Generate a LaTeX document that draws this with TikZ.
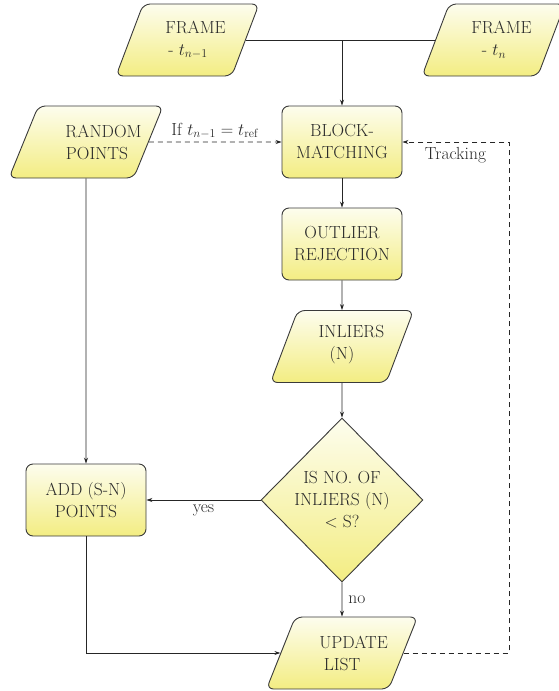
\documentclass[tikz,border=0pt]{standalone}
\usetikzlibrary{shapes.geometric,arrows.meta}
\definecolor{fillTop}{HTML}{FDFDEE}
\definecolor{fillBot}{HTML}{F3ED82}
\definecolor{edgeC}{HTML}{3A3A3A}
\definecolor{txtC}{HTML}{2A2A2A}
\begin{document}
\begin{tikzpicture}[x=1pt,y=-1pt,
  every node/.style={font=\fontsize{17.5}{22}\selectfont, text=txtC},
  boxbase/.style={draw=edgeC, line width=0.9pt, top color=fillTop, bottom color=fillBot, align=center, inner sep=0pt},
  procbox/.style={boxbase, rectangle, rounded corners=7pt, minimum width=120pt, minimum height=72pt},
  iobox/.style={boxbase, trapezium, trapezium left angle=70, trapezium right angle=110, trapezium stretches=true, rounded corners=7pt, minimum height=72pt, inner sep=2pt},
  decbox/.style={boxbase, diamond, minimum width=162pt, minimum height=164pt},
  txtlbl/.style={align=center, inner sep=0pt},
  conn/.style={draw=black!85, line width=0.8pt},
  arr/.style={conn, -{Stealth[length=6pt,width=4pt]}},
  darr/.style={arr, dash pattern=on 5pt off 4pt},
]
\useasboundingbox (0,0) rectangle (558,691);

% input / output shapes
\node[iobox, minimum width=143pt] (f1) at (187.5,40) {\phantom{M}};
\node[txtlbl] (f1t) at (188,40) {\hspace{15pt}FRAME\\- $t_{n-1}$};
\node[iobox, minimum width=143pt] (f2) at (493.5,40) {\phantom{M}};
\node[txtlbl] (f2t) at (494,40) {\hspace{15pt}FRAME\\- $t_{n}$};
\node[iobox, minimum width=154pt] (rp) at (86,142) {\phantom{M}};
\node[txtlbl] (rpt) at (97,142) {\hspace{13pt}RANDOM\\POINTS};
\node[iobox, minimum width=143pt] (inl) at (342,346.5) {\phantom{M}};
\node[txtlbl] (inlt) at (342,345) {\hspace{19pt}INLIERS\\(N)};
\node[iobox, minimum width=151pt] (ul) at (342,653) {\phantom{M}};
\node[txtlbl] (ult) at (342,653) {\hspace{23pt}UPDATE\\LIST};

% process boxes
\node[procbox] (bm) at (342,142) {BLOCK-\\MATCHING};
\node[procbox] (orj) at (342,244) {OUTLIER\\REJECTION};
\node[procbox] (add) at (86,500) {ADD (S-N)\\POINTS};

% decision
\node[decbox] (dec) at (342,500) {\phantom{M}};
\node[txtlbl] (dect) at (342,500) {IS NO. OF\\INLIERS (N)\\$<$ S?};

% connectors
\draw[conn] (f1.east) -- (f2.west);
\coordinate (join) at (f1.east -| bm.north);
\draw[arr] (join) -- (bm.north);
\draw[darr] (rp.east) -- node[above=3pt, inner sep=0pt] {If $t_{n-1} = t_{\mathrm{ref}}$} (bm.west);
\draw[arr] (bm.south) -- (orj.north);
\draw[arr] (orj.south) -- (inl.north);
\draw[arr] (inl.south) -- (dec.north);
\draw[arr] (dec.west) -- node[below=4pt, inner sep=0pt] {yes} (add.east);
\draw[arr] (dec.south) -- node[right=6pt, inner sep=0pt] {no} (ul.north);
\draw[arr] (rp.south) -- (add.north);
\draw[arr] (add.south) |- (ul.west);
\coordinate (trk) at (509,0);
\draw[darr] (ul.east) -- (ul.east -| trk) -- (bm.east -| trk) -- (bm.east);
\node[inner sep=0pt] (trkl) at (455.5,155) {Tracking};
\end{tikzpicture}
\end{document}
